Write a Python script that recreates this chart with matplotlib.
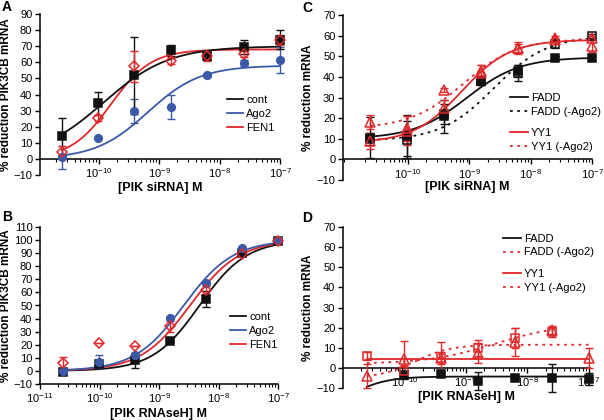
import numpy as np
import matplotlib
matplotlib.use("Agg")
import matplotlib.pyplot as plt
from matplotlib.ticker import LogLocator, NullFormatter, MultipleLocator
from matplotlib.lines import Line2D

plt.rcParams['font.family'] = ['Liberation Sans', 'DejaVu Sans']
plt.rcParams['mathtext.default'] = 'regular'

# concentrations (M)
conc = [2.44e-11, 9.77e-11, 3.91e-10, 1.56e-9, 6.25e-9, 2.5e-8, 1e-7]

# ---- Panel A: PIK siRNA, PIK3CB mRNA ----
A_cont = [14, 34.5, 52, 67.5, 64, 69.5, 74]
A_cont_err = [11.5, 7, 24, 3.5, 2.5, 4.5, 6]
A_ago2 = [1, 13, 30, 32.5, 52, 59.5, 61.5]
A_ago2_err = [7, 0, 7.5, 7.5, 1, 2, 8]
A_fen1 = [4, 25.5, 57.5, 61, 64, 65, 74]
A_fen1_err = [4, 2, 9.5, 2, 3, 2, 3]
# 4PL fit parameters: bottom, top, logEC50, hill
A_cont_fit = [0, 70, -9.92, 0.8]
A_ago2_fit = [0, 58, -9.187, 1.0]
A_fen1_fit = [0, 68, -9.796, 1.3]

# ---- Panel B: PIK RNAseH, PIK3CB mRNA ----
B_cont = [-1, 5, 8, 23, 55, 90, 99]
B_cont_err = [0, 0, 6, 1, 6, 1, 1]
B_ago2 = [0, 7, 12.5, 40.5, 67, 94, 100]
B_ago2_err = [0, 5, 1, 0, 0, 1, 0]
B_fen1 = [6, 21, 19, 34, 62, 89, 99]
B_fen1_err = [4.5, 0, 0, 4, 3, 1, 0]
B_cont_fit = [0, 100, -8.319, 1.1]
B_ago2_fit = [0, 100, -8.585, 1.05]
B_fen1_fit = [0, 100, -8.48, 1.05]

# ---- Panel C: PIK siRNA, mRNA ----
C_fadd = [10.5, 11.5, 21, 38, 43, 49, 49]
C_fadd_err = [10, 10, 8, 2, 3, 1, 1]
C_fadd_m = [10, 9.5, 22, 38, 42, 56, 60]
C_fadd_m_err = [3, 9, 5, 2, 4, 2, 1]
C_yy1 = [9, 14, 25, 42, 54, 59, 55]
C_yy1_err = [4, 7, 4, 4, 3, 1, 3]
C_yy1_m = [18, 15, 33.5, 43, 54, 58, 59]
C_yy1_m_err = [3.5, 6, 1, 3, 2, 1, 1]
C_fadd_fit = [10, 49.5, -9.046, 1.0]
C_fadd_m_fit = [9, 60, -8.602, 1.0]
C_yy1_fit = [8, 58, -9.125, 1.1]
C_yy1_m_fit = [15, 58.5, -9.097, 1.0]

# ---- Panel D: PIK RNAseH, mRNA ----
D_fadd = [np.nan, -3.5, -3, -6.5, -5, -5, -5.5]
D_fadd_err = [0, 2, 1, 4.5, 1, 7, 3]
D_fadd_m = [6, -1.5, 5, 10, 15, 18, np.nan]
D_fadd_m_err = [2, 3, 3, 4, 5, 2.5, 0]
D_yy1 = [-4, 4.5, 5, 7.5, 13, 19, 5]
D_yy1_err = [6, 9, 8, 5, 7, 2, 5]
D_fadd_fit = [-20, -4.3, -10.824, 1.5]
D_fadd_m_fit = [2, 22, -8.523, 0.8]
D_yy1_fit = [4.5, 4.5, -9.0, 1.0]
D_yy1_m_fit = [-5, 11.5, -9.824, 1.5]

BLACK = '#111111'
BLUE = '#3a5aa8'
RED = '#e0282a'
DOT = (0, (1.5, 2.5))
LEG_FS = 8
LAB_FS = 8.5


def fourpl(x, p):
    b, t, lec, h = p
    return b + (t - b) / (1 + 10 ** ((lec - np.log10(x)) * h))


def curve(ax, p, color, ls='-', xmin=conc[0], xmax=conc[-1]):
    xs = np.logspace(np.log10(xmin), np.log10(xmax), 200)
    ax.plot(xs, fourpl(xs, p), color=color, ls=ls, lw=1.3, zorder=2)


def pts(ax, y, err, color, marker, filled=True, ms=5.5):
    y = np.asarray(y, float)
    err = np.asarray(err, float)
    ax.errorbar(conc, y, yerr=err, fmt='none', ecolor=color, elinewidth=1.0,
                capsize=3, capthick=1.0, zorder=3, clip_on=False)
    ax.plot(conc, y, ls='none', marker=marker, ms=ms, color=color,
            mfc=color if filled else 'none', mec=color, mew=1.1, zorder=4,
            clip_on=False)


def style(ax, ylim, xlim, xzero=True, xticks_major=(-10, -9, -8, -7)):
    ax.set_xscale('log')
    ax.set_xlim(*xlim)
    ax.set_ylim(*ylim)
    ax.spines['top'].set_visible(False)
    ax.spines['right'].set_visible(False)
    for s in ('left', 'bottom'):
        ax.spines[s].set_linewidth(1.1)
    if xzero:
        ax.spines['bottom'].set_position(('data', 0))
    ax.set_xticks([10.0 ** e for e in xticks_major])
    ax.xaxis.set_minor_locator(LogLocator(base=10, subs=np.arange(2, 10)))
    ax.xaxis.set_minor_formatter(NullFormatter())
    ax.yaxis.set_major_locator(MultipleLocator(10))
    ax.tick_params(axis='both', which='major', labelsize=8, length=3.5,
                   width=1.0, pad=2)
    ax.tick_params(axis='x', which='minor', length=2, width=0.8)


def legend(ax, handles, labels, anchor, hl=1.4):
    return ax.legend(handles, labels, loc='center left', bbox_to_anchor=anchor,
                     frameon=False, fontsize=LEG_FS, handlelength=hl,
                     handletextpad=0.3, labelspacing=0.35, borderpad=0,
                     borderaxespad=0)


fig = plt.figure(figsize=(6.04, 4.2), dpi=100)

# Panel A
axA = fig.add_axes([40 / 604, 1 - 175 / 420, 240 / 604, 161 / 420])
style(axA, (-10, 90), (1.07e-11, 1e-7))
curve(axA, A_ago2_fit, BLUE)
curve(axA, A_fen1_fit, RED)
curve(axA, A_cont_fit, BLACK)
pts(axA, A_ago2, A_ago2_err, BLUE, 'o')
pts(axA, A_cont, A_cont_err, BLACK, 's')
pts(axA, A_fen1, A_fen1_err, RED, 'D', filled=False, ms=5)
axA.set_ylabel('% reduction PIK3CB mRNA', fontsize=LAB_FS, fontweight='bold', labelpad=1)
axA.set_xlabel('[PIK siRNA] M', fontsize=9, fontweight='bold', labelpad=1)
hA = [Line2D([], [], color=c, lw=1.3) for c in (BLACK, BLUE, RED)]
legend(axA, hA, ['cont', 'Ago2', 'FEN1'], (0.78, 0.38))

# Panel B
axB = fig.add_axes([40 / 604, 1 - 384 / 420, 238 / 604, 157 / 420])
style(axB, (-10, 110), (1e-11, 1e-7), xzero=False,
      xticks_major=(-11, -10, -9, -8, -7))
curve(axB, B_cont_fit, BLACK)
curve(axB, B_fen1_fit, RED)
curve(axB, B_ago2_fit, BLUE)
pts(axB, B_cont, B_cont_err, BLACK, 's')
pts(axB, B_ago2, B_ago2_err, BLUE, 'o')
pts(axB, B_fen1, B_fen1_err, RED, 'D', filled=False, ms=5)
axB.set_ylabel('% reduction PIK3CB mRNA', fontsize=LAB_FS, fontweight='bold', labelpad=1)
axB.set_xlabel('[PIK RNAseH] M', fontsize=9, fontweight='bold', labelpad=2)
legend(axB, hA, ['cont', 'Ago2', 'FEN1'], (0.8, 0.34))

# Panel C
axC = fig.add_axes([343 / 604, 1 - 180 / 420, 249 / 604, 165 / 420])
style(axC, (-10, 70), (8.7e-12, 1e-7))
curve(axC, C_fadd_m_fit, BLACK, ls=DOT)
curve(axC, C_yy1_m_fit, RED, ls=DOT)
curve(axC, C_fadd_fit, BLACK)
curve(axC, C_yy1_fit, RED)
pts(axC, C_fadd, C_fadd_err, BLACK, 's')
pts(axC, C_fadd_m, C_fadd_m_err, BLACK, 's', filled=False)
pts(axC, C_yy1, C_yy1_err, RED, '^', filled=False, ms=6.5)
pts(axC, C_yy1_m, C_yy1_m_err, RED, '^', filled=False, ms=6.5)
axC.set_ylabel('% reduction mRNA', fontsize=LAB_FS, fontweight='bold', labelpad=2)
axC.set_xlabel('[PIK siRNA] M', fontsize=9, fontweight='bold', labelpad=0)
hC1 = [Line2D([], [], color=BLACK, lw=1.3),
       Line2D([], [], color=BLACK, lw=1.3, ls=DOT)]
hC2 = [Line2D([], [], color=RED, lw=1.3),
       Line2D([], [], color=RED, lw=1.3, ls=DOT)]
lg1 = legend(axC, hC1, ['FADD', 'FADD (-Ago2)'], (0.67, 0.455), hl=1.6)
axC.add_artist(lg1)
legend(axC, hC2, ['YY1', 'YY1 (-Ago2)'], (0.67, 0.245), hl=1.6)

# Panel D
axD = fig.add_axes([343 / 604, 1 - 388 / 420, 247 / 604, 161 / 420])
style(axD, (-10, 70), (1e-11, 1.05e-7))
curve(axD, D_fadd_m_fit, RED, ls=DOT, xmax=conc[5])
curve(axD, D_yy1_m_fit, RED, ls=DOT)
curve(axD, D_yy1_fit, RED)
curve(axD, D_fadd_fit, BLACK)
pts(axD, D_fadd, D_fadd_err, BLACK, 's')
pts(axD, D_fadd_m, D_fadd_m_err, RED, 's', filled=False)
pts(axD, D_yy1, D_yy1_err, RED, '^', filled=False, ms=6.5)
axD.set_ylabel('% reduction mRNA', fontsize=LAB_FS, fontweight='bold', labelpad=2)
axD.set_xlabel('[PIK RNAseH] M', fontsize=9, fontweight='bold', labelpad=1)
hD1 = [Line2D([], [], color=BLACK, lw=1.3),
       Line2D([], [], color=RED, lw=1.3, ls=DOT)]
lg2 = legend(axD, hD1, ['FADD', 'FADD (-Ago2)'], (0.648, 0.885), hl=1.6)
axD.add_artist(lg2)
legend(axD, hC2, ['YY1', 'YY1 (-Ago2)'], (0.648, 0.665), hl=1.6)

for txt, x, y in (('A', 2, 0), ('B', 2, 210), ('C', 302, 1), ('D', 302, 211)):
    fig.text(x / 604, 1 - y / 420, txt, fontsize=10, fontweight='bold',
             va='top', ha='left')

fig.savefig('out.png', dpi=100)
